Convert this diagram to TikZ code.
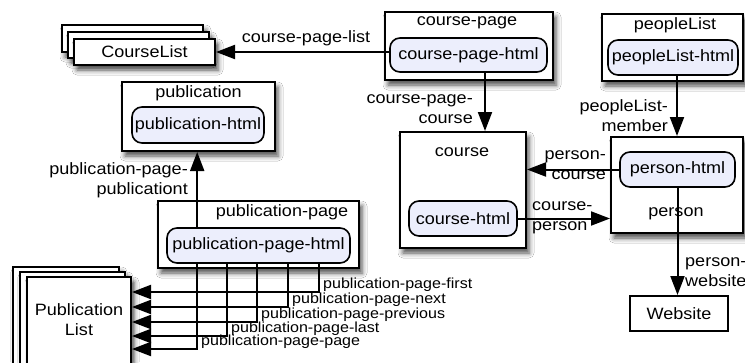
\documentclass[tikz,border=0pt]{standalone}
\usepackage{fontspec}
\setmainfont{Liberation Sans}[FakeStretch=1.1]
\usetikzlibrary{arrows.meta,shadows.blur}
\definecolor{innerfill}{RGB}{236,238,252}
\begin{document}
\begin{tikzpicture}[x=1pt,y=-1pt,
  font=\fontsize{16.4}{20}\selectfont,
  box/.style={draw,line width=2pt,fill=white,inner sep=0pt,
     blur shadow={shadow xshift=3pt,shadow yshift=-5pt,shadow blur radius=5pt,shadow opacity=70}},
  plainbox/.style={draw,line width=2pt,fill=white,inner sep=0pt},
  inbox/.style={draw,line width=1.6pt,fill=innerfill,rounded corners=10pt,inner sep=0pt},
  arr/.style={line width=2pt,-{Triangle[length=19pt,width=14pt]}},
  lbl/.style={inner sep=0pt},
  small/.style={inner sep=0pt,font=\fontsize{14.6}{16}\selectfont,anchor=base west}
]
\useasboundingbox (0,0) rectangle (745,362);
\fill[white] (0,0) rectangle (745,362);
\clip (0,0) rectangle (745,362);

% CourseList stack
\node[box,minimum width=141pt,minimum height=27pt] (clb) at (132.5,38.5) {};
\node[box,minimum width=141pt,minimum height=26pt] (clm) at (138.5,45) {};
\node[box,minimum width=141pt,minimum height=26pt] (clf) at (144.5,52) {CourseList};

% publication
\node[box,minimum width=153pt,minimum height=69pt] (pub) at (198.5,116.5) {};
\node[lbl] (publbl) at (198.5,93) {publication};
\node[inbox,minimum width=132pt,minimum height=36pt] (pubh) at (198,125) {publication-html};

% publication-page
\node[box,minimum width=201pt,minimum height=67pt] (pp) at (258.5,234.5) {};
\node[lbl] (pplbl) at (282,212) {publication-page};
\node[inbox,minimum width=183pt,minimum height=35pt] (pph) at (258.5,245.5) {publication-page-html};

% Publication List stack
\node[box,minimum width=106pt,minimum height=140pt] (plb) at (66,337) {};
\node[box,minimum width=105pt,minimum height=140pt] (plm) at (72.5,342) {};
\node[box,minimum width=104pt,minimum height=140pt] (plf) at (79,347) {};
\node[lbl,align=center] (pltxt) at (79,320) {Publication\\List};

% course-page
\node[box,minimum width=168pt,minimum height=68pt] (cp) at (469,46) {};
\node[lbl] (cplbl) at (467,23) {course-page};
\node[inbox,minimum width=157pt,minimum height=34pt] (cph) at (468.5,55) {course-page-html};

% peopleList
\node[box,minimum width=141pt,minimum height=67pt] (pl) at (672.5,47.5) {};
\node[lbl] (pllbl) at (675,25) {peopleList};
\node[inbox,minimum width=130pt,minimum height=35pt] (plh) at (673,57.5) {peopleList-html};

% course
\node[box,minimum width=126pt,minimum height=116pt] (crs) at (463,190) {};
\node[lbl] (crslbl) at (462,152) {course};
\node[inbox,minimum width=108pt,minimum height=35pt] (ch) at (463,218.5) {course-html};

% person
\node[box,minimum width=132pt,minimum height=96pt] (per) at (677,185) {};
\node[lbl] (perlbl) at (676,214) {person};
\node[inbox,minimum width=115pt,minimum height=35pt] (ph) at (677.5,169.5) {person-html};

% Website
\node[plainbox,minimum width=98pt,minimum height=35pt] (web) at (679,313.5) {Website};

% connectors
\draw[arr] (clf.east -| cph.west) -- (clf.east);
\node[lbl] (lcpl) at (306,38) {course-page-list};

\draw[arr] ([xshift=16.5pt]cph.south) -- ([xshift=16.5pt]cph.south |- crs.north);
\node[lbl,align=right,anchor=east] (lcpc) at (473,109) {course-page-\\course};

\draw[arr] ([xshift=4pt]plh.south) -- ([xshift=4pt]plh.south |- per.north);
\node[lbl,align=right,anchor=east] (lplm) at (668,115.5) {peopleList-\\member};

\draw[arr] (ph.west) -- (ph.west -| crs.east);
\node[lbl,align=right,anchor=east] (lpc) at (606,165) {person-\\course};

\draw[arr] (ch.east) -- (ch.east -| per.west);
\node[lbl,align=left,anchor=west] (lcp) at (532,217.5) {course-\\person};

\draw[arr] (ph.south) -- (ph.south |- web.north);
\node[lbl,align=left,anchor=west] (lpw) at (685,272) {person-\\website};

\draw[arr] ([xshift=31pt]pph.north west) -- ([xshift=31pt]pph.north west |- pub.south);
\node[lbl,align=right,anchor=east] (lppp) at (188,180) {publication-page-\\publicationt};

\draw[arr] ([xshift=153pt]pph.south west) |- ([yshift=55pt]plf.east);
\draw[arr] ([xshift=122pt]pph.south west) |- ([yshift=40pt]plf.east);
\draw[arr] ([xshift=91pt]pph.south west) |- ([yshift=25pt]plf.east);
\draw[arr] ([xshift=61pt]pph.south west) |- ([yshift=11pt]plf.east);
\draw[arr] ([xshift=31pt]pph.south west) |- ([yshift=-2pt]plf.east);
\node[small] (lf) at (323,288) {publication-page-first};
\node[small] (ln) at (292,303) {publication-page-next};
\node[small] (lpv) at (261,318) {publication-page-previous};
\node[small] (ll) at (231,332) {publication-page-last};
\node[small] (lpg) at (201,345) {publication-page-page};
\end{tikzpicture}
\end{document}
